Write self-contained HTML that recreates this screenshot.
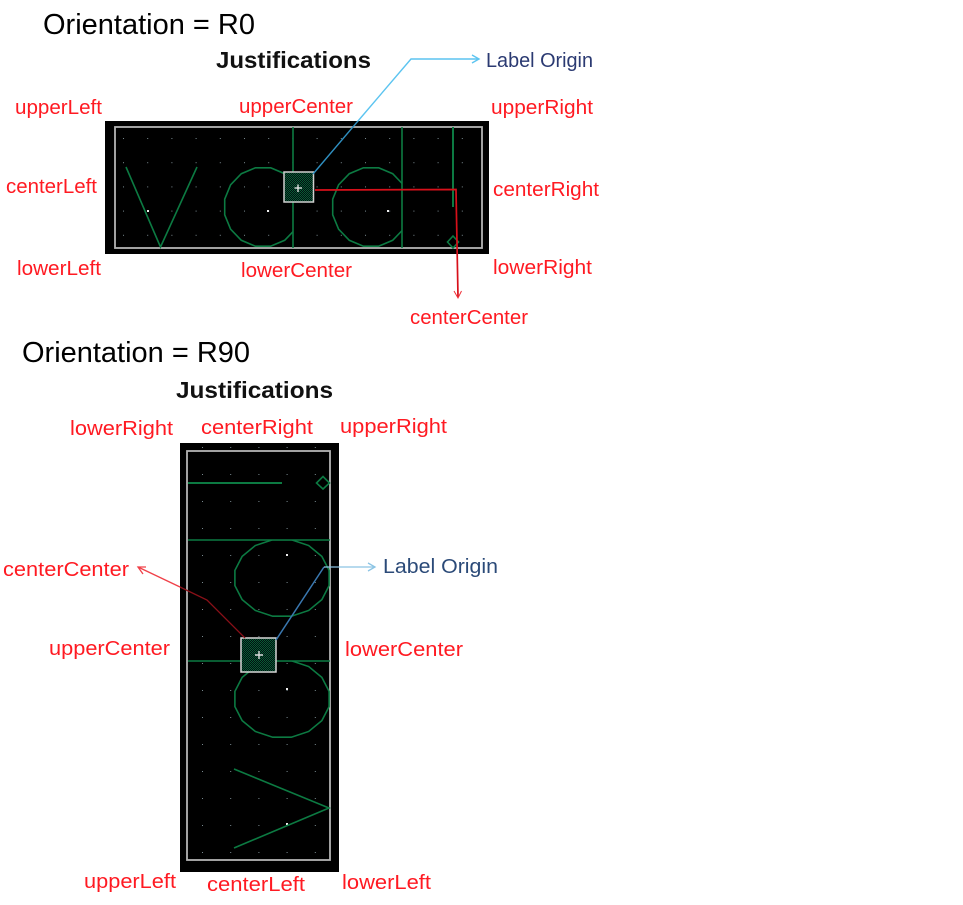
<!DOCTYPE html>
<html><head><meta charset="utf-8"><style>
html,body{margin:0;padding:0;background:#fff;width:963px;height:905px;overflow:hidden}
svg{display:block;filter:blur(.35px)}
text{font-family:"Liberation Sans",sans-serif}
.r{fill:#ff1a22;font-size:20px}
.t{fill:#000;font-size:29px}
.j{fill:#111;font-size:23px;font-weight:bold}
.g{fill:none;stroke:#0c7a42;stroke-width:1.6}
.f{fill:none;stroke:#b4b4b4;stroke-width:1.8}
.d{fill:#7a8a90}
.w{fill:#eee}
.n{vector-effect:non-scaling-stroke}
</style></head><body>
<svg width="963" height="905" viewBox="0 0 963 905" xmlns="http://www.w3.org/2000/svg">
<defs>
<pattern id="h" width="2" height="2" patternUnits="userSpaceOnUse"><rect width="2" height="2" fill="#011"/><rect width="1" height="1" fill="#0a5a34"/><rect x="1" y="1" width="1" height="1" fill="#0a5a34"/></pattern>
<pattern id="d1" x="123" y="138" width="24.2" height="24.2" patternUnits="userSpaceOnUse"><rect width="1" height="1" class="d"/></pattern>
<pattern id="d2" x="202" y="447" width="28.2" height="27" patternUnits="userSpaceOnUse"><rect width="1" height="1" class="d"/></pattern>
<clipPath id="c1"><rect x="115" y="127" width="178" height="121"/></clipPath>
<clipPath id="c2"><rect x="293" y="127" width="109" height="121"/></clipPath>
<clipPath id="c3"><rect x="188" y="540" width="142" height="121"/></clipPath>
<clipPath id="c4"><rect x="188" y="661" width="142" height="121"/></clipPath>
<path id="p" class="g n" d="M7.6 -39.2L21.700 -33.300L32.400 -22.200L38.300 -7.800L38.300 7.800L32.400 22.200L21.700 33.300L7.600 39.200L-7.600 39.200L-21.700 33.300L-32.400 22.200L-38.300 7.800L-38.300 -7.800L-32.400 -22.200L-21.700 -33.300L-7.600 -39.200Z"/>
</defs>

<text class="t" x="43" y="34" textLength="212" lengthAdjust="spacingAndGlyphs">Orientation = R0</text>
<text class="j" x="216" y="68" textLength="155" lengthAdjust="spacingAndGlyphs">Justifications</text>
<text class="r" x="15" y="114" textLength="87" lengthAdjust="spacingAndGlyphs">upperLeft</text>
<text class="r" x="239" y="113" textLength="114" lengthAdjust="spacingAndGlyphs">upperCenter</text>
<text class="r" x="491" y="114" textLength="102" lengthAdjust="spacingAndGlyphs">upperRight</text>
<text class="r" x="6" y="193" textLength="91" lengthAdjust="spacingAndGlyphs">centerLeft</text>
<text class="r" x="493" y="196" textLength="106" lengthAdjust="spacingAndGlyphs">centerRight</text>
<text class="r" x="17" y="275" textLength="84" lengthAdjust="spacingAndGlyphs">lowerLeft</text>
<text class="r" x="241" y="277" textLength="111" lengthAdjust="spacingAndGlyphs">lowerCenter</text>
<text class="r" x="493" y="274" textLength="99" lengthAdjust="spacingAndGlyphs">lowerRight</text>
<text class="r" x="410" y="324" textLength="118" lengthAdjust="spacingAndGlyphs">centerCenter</text>
<text x="486" y="67" font-size="20" fill="#2b3a72" textLength="107" lengthAdjust="spacingAndGlyphs">Label Origin</text>

<rect x="105" y="121" width="384" height="133" fill="#000"/>
<rect x="115" y="127" width="367" height="121" fill="url(#d1)"/>
<rect class="f" x="115" y="127" width="367" height="121"/>
<rect class="w" x="147" y="210" width="2" height="2"/><rect class="w" x="267" y="210" width="2" height="2"/><rect class="w" x="387" y="210" width="2" height="2"/>
<path class="g" d="M126 167L160.500 247L197 167"/>
<g clip-path="url(#c1)"><use href="#p" transform="translate(263,207)"/></g>
<g clip-path="url(#c2)"><use href="#p" transform="translate(371,207)"/></g>
<path class="g" d="M293 127V248M402 127V248"/>
<path d="M453 127V207" fill="none" stroke="#0c7a42" stroke-width="2"/>
<path class="g" d="M453 236L458.500 242L453 248L447.500 242Z"/>
<rect x="284" y="172" width="29.500" height="30" fill="url(#h)" stroke="#d0d0d0" stroke-width="1.500"/>
<path d="M294.500 188H302M298 184.500V192" stroke="#eee" stroke-width="1.300" fill="none"/>
<path d="M315 190L456 189.500L458 297" fill="none" stroke="#d8101a" stroke-width="1.700"/>
<path d="M454 291L458 298L461.500 291" fill="none" stroke="#f03038" stroke-width="1"/>
<path d="M313 174L358 121" fill="none" stroke="#2f8fc0" stroke-width="1.400"/>
<path d="M358 121L411 59H478" fill="none" stroke="#5cc4f0" stroke-width="1.400"/>
<path d="M472 55L479 59L472 63" fill="none" stroke="#5cc4f0" stroke-width="1.400"/>

<text class="t" x="22" y="362" textLength="228" lengthAdjust="spacingAndGlyphs">Orientation = R90</text>
<text class="j" x="176" y="398" textLength="157" lengthAdjust="spacingAndGlyphs">Justifications</text>
<text class="r" x="70" y="435" textLength="103" lengthAdjust="spacingAndGlyphs">lowerRight</text>
<text class="r" x="201" y="434" textLength="112" lengthAdjust="spacingAndGlyphs">centerRight</text>
<text class="r" x="340" y="433" textLength="107" lengthAdjust="spacingAndGlyphs">upperRight</text>
<text class="r" x="3" y="576" textLength="126" lengthAdjust="spacingAndGlyphs">centerCenter</text>
<text class="r" x="49" y="655" textLength="121" lengthAdjust="spacingAndGlyphs">upperCenter</text>
<text class="r" x="345" y="656" textLength="118" lengthAdjust="spacingAndGlyphs">lowerCenter</text>
<text class="r" x="84" y="888" textLength="92" lengthAdjust="spacingAndGlyphs">upperLeft</text>
<text class="r" x="207" y="891" textLength="98" lengthAdjust="spacingAndGlyphs">centerLeft</text>
<text class="r" x="342" y="889" textLength="89" lengthAdjust="spacingAndGlyphs">lowerLeft</text>
<text x="383" y="573" font-size="20" fill="#2b4a78" textLength="115" lengthAdjust="spacingAndGlyphs">Label Origin</text>

<rect x="180" y="443" width="159" height="429" fill="#000"/>
<rect x="188" y="447" width="142" height="413" fill="url(#d2)"/>
<rect class="f" x="187" y="451" width="143" height="409"/>
<rect class="w" x="286" y="554" width="2" height="2"/><rect class="w" x="286" y="688" width="2" height="2"/><rect class="w" x="286" y="823" width="2" height="2"/>
<path class="g" d="M188 483H282" style="stroke-width:2"/>
<path class="g" d="M323 476.500L329.500 483L323 489L316.500 483Z"/>
<path class="g" d="M188 540H330M188 661H330"/>
<g clip-path="url(#c3)"><use href="#p" transform="translate(282,578) scale(1.230,.975)"/></g>
<g clip-path="url(#c4)"><use href="#p" transform="translate(282,699) scale(1.230,.975)"/></g>
<path class="g" d="M234 769L329 808L234 848"/>
<rect x="241" y="638" width="35" height="34" fill="url(#h)" stroke="#d8d8d8" stroke-width="1.500"/>
<path d="M255 655H263M259 651V659" stroke="#ddd" stroke-width="1.400" fill="none"/>
<path d="M245 638L207 600L180 587" fill="none" stroke="#8a1018" stroke-width="1.300"/>
<path d="M180 587L138 567" fill="none" stroke="#f04048" stroke-width="1.300"/>
<path d="M146 567L138 567L143 574" fill="none" stroke="#f04048" stroke-width="1.300"/>
<path d="M276 640L324 567" fill="none" stroke="#3a78b0" stroke-width="1.500"/>
<path d="M324 567H375" fill="none" stroke="#8cc4e4" stroke-width="1.300"/>
<path d="M368 563L375 567L368 571" fill="none" stroke="#8cc4e4" stroke-width="1.300"/>
</svg>
</body></html>
